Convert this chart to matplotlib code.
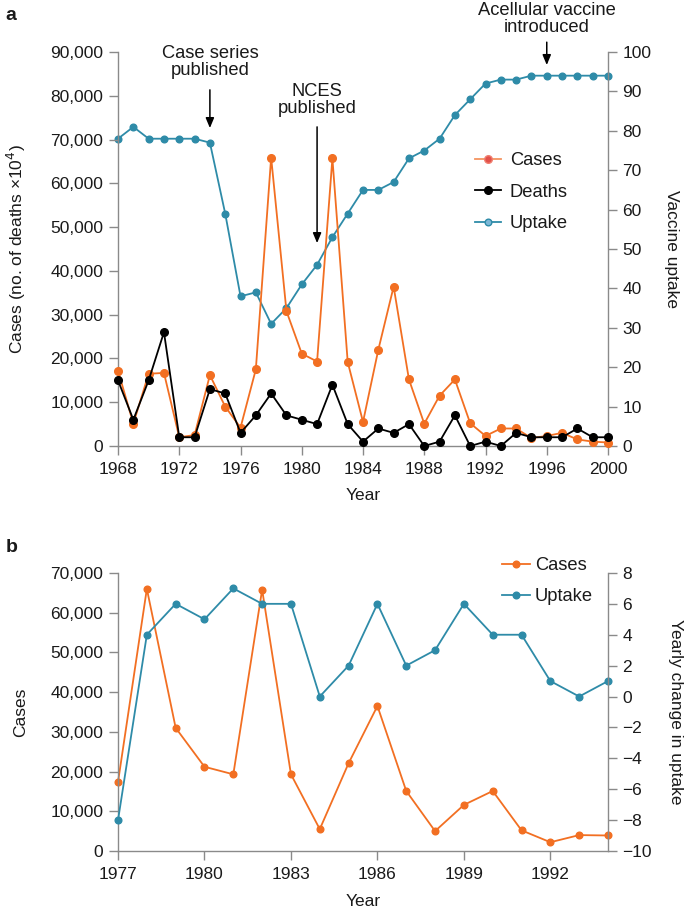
import numpy as np
import matplotlib
matplotlib.use("Agg")
import matplotlib.pyplot as plt
from matplotlib.lines import Line2D
import matplotlib.transforms as mtransforms

plt.rcParams['font.family'] = ['Liberation Sans', 'DejaVu Sans']

# panel a data, 1968-2000
years = list(range(1968, 2001))
cases = [17200, 5100, 16500, 16700, 2000, 2500, 16200, 9000, 4200, 17500,
         65900, 30800, 21100, 19300, 65700, 19200, 5500, 22000, 36400, 15200,
         5100, 11500, 15200, 5200, 2300, 4000, 4000, 1800, 2300, 3000,
         1500, 1000, 800]
deaths = [1.5, 0.6, 1.5, 2.6, 0.2, 0.2, 1.3, 1.2, 0.3, 0.7,
          1.2, 0.7, 0.6, 0.5, 1.4, 0.5, 0.1, 0.4, 0.3, 0.5,
          0.0, 0.1, 0.7, 0.0, 0.1, 0.0, 0.3, 0.2, 0.2, 0.2,
          0.4, 0.2, 0.2]  # x10^4 on the cases axis
uptake = [78, 81, 78, 78, 78, 78, 77, 59, 38, 39,
          31, 35, 41, 46, 53, 59, 65, 65, 67, 73,
          75, 78, 84, 88, 92, 93, 93, 94, 94, 94,
          94, 94, 94]

# panel b data, 1977-1994
years_b = list(range(1977, 1995))
cases_b = [17400, 66000, 31000, 21200, 19300, 65800, 19300, 5500, 22100, 36500,
           15100, 5000, 11600, 15100, 5200, 2200, 4000, 3900]
uptake_change = [-8, 4, 6, 5, 7, 6, 6, 0, 2, 6, 2, 3, 6, 4, 4, 1, 0, 1]

orange = '#F26F22'
blue = '#2E8BA8'
grey = '#8a8a8a'
txt = '#1a1a1a'
fs = 12.5

fig = plt.figure(figsize=(6.85, 9.08), dpi=100)
ax = fig.add_axes([0.1723, 0.5088, 0.7153, 0.4339])
ax2 = ax.twinx()


def style(a, right=False):
    a.spines['top'].set_visible(False)
    for s in ['left', 'right', 'bottom']:
        a.spines[s].set_color(grey)
        a.spines[s].set_linewidth(1.0)
    if right:
        a.spines['left'].set_visible(False)
        a.spines['bottom'].set_visible(False)
    else:
        a.spines['right'].set_visible(False)
    a.tick_params(direction='out', length=6.5, width=1.0, color=grey,
                  labelsize=fs, labelcolor=txt, pad=4)
    a.tick_params(axis='x', pad=5)


style(ax)
style(ax2, right=True)

ax.plot(years, cases, '-o', color=orange, lw=1.3, ms=5.5, clip_on=False, zorder=3)
ax.plot(years, np.array(deaths) * 1e4, '-o', color='black', lw=1.3, ms=5.5,
        clip_on=False, zorder=3)
ax2.plot(years, uptake, '-o', color=blue, lw=1.3, ms=4.8, clip_on=False)

ax.set_xlim(1968, 2000)
ax.set_ylim(0, 90000)
ax2.set_ylim(0, 100)
ax.set_xticks(range(1968, 2001, 4))
ax.set_yticks(range(0, 90001, 10000))
ax.set_yticklabels([f'{v:,}' for v in range(0, 90001, 10000)])
ax2.set_yticks(range(0, 101, 10))
ax.set_zorder(ax2.get_zorder() + 1)
ax.patch.set_visible(False)

ax.set_xlabel('Year', fontsize=fs, color=txt, labelpad=8)
ax.set_ylabel('Cases (no. of deaths ×10$^4$)', fontsize=fs, color=txt, labelpad=16)
ax2.set_ylabel('Vaccine uptake', fontsize=fs, color=txt, rotation=270, labelpad=20)

# annotations
tr = mtransforms.blended_transform_factory(ax.transData, ax.transAxes)
arrow = dict(arrowstyle='-|>,head_length=0.6,head_width=0.25', color='black', lw=1.1,
             shrinkA=0, shrinkB=0)
afs = 13.2
ax.text(1974, 0.975, 'Case series\npublished', transform=tr, ha='center', va='center',
        fontsize=afs, color=txt, linespacing=1.0)
ax.annotate('', xy=(1974, 0.807), xytext=(1974, 0.904), xycoords=tr, textcoords=tr,
            arrowprops=arrow)
ax.text(1981, 0.878, 'NCES\npublished', transform=tr, ha='center', va='center',
        fontsize=afs, color=txt, linespacing=1.0)
ax.annotate('', xy=(1981, 0.515), xytext=(1981, 0.81), xycoords=tr, textcoords=tr,
            arrowprops=arrow)
ax.text(1996, 1.083, 'Acellular vaccine\nintroduced', transform=tr, ha='center',
        va='center', fontsize=afs, color=txt, linespacing=1.0)
ax.annotate('', xy=(1996, 0.967), xytext=(1996, 1.025), xycoords=tr, textcoords=tr,
            arrowprops=arrow)

handles = [
    Line2D([], [], color='#F49460', lw=1.3, marker='o', ms=5.5,
           markerfacecolor='#E2504A', markeredgecolor='#F08070'),
    Line2D([], [], color='black', lw=1.3, marker='o', ms=5.5),
    Line2D([], [], color=blue, lw=1.3, marker='o', ms=4.8,
           markerfacecolor='#7DB7D6', markeredgecolor=blue),
]
ax.legend(handles, ['Cases', 'Deaths', 'Uptake'], loc='upper left',
          bbox_to_anchor=(0.695, 0.788), frameon=False, fontsize=afs,
          labelspacing=0.8, handlelength=1.4, handletextpad=0.5, labelcolor=txt)

fig.text(0.008, 0.978, 'a', fontsize=14, fontweight='bold', color=txt)

# panel b
bx = fig.add_axes([0.1723, 0.0628, 0.7153, 0.3062])
bx2 = bx.twinx()
style(bx)
style(bx2, right=True)

l1, = bx.plot(years_b, cases_b, '-o', color=orange, lw=1.3, ms=4.8, clip_on=False)
l2, = bx2.plot(years_b, uptake_change, '-o', color=blue, lw=1.3, ms=4.8, clip_on=False)

bx.set_xlim(1977, 1994)
bx.set_ylim(0, 70000)
bx2.set_ylim(-10, 8)
bx.set_xticks(range(1977, 1994, 3))
bx.set_yticks(range(0, 70001, 10000))
bx.set_yticklabels([f'{v:,}' for v in range(0, 70001, 10000)])
bx2.set_yticks(range(-10, 9, 2))
bx2.set_yticklabels([str(v).replace('-', '\u2212') for v in range(-10, 9, 2)])

bx.set_xlabel('Year', fontsize=fs, color=txt, labelpad=9)
bx.set_ylabel('Cases', fontsize=fs, color=txt, labelpad=16)
bx2.set_ylabel('Yearly change in uptake', fontsize=fs, color=txt, rotation=270,
               labelpad=22)

bx2.legend([l1, l2], ['Cases', 'Uptake'], loc='upper left',
           bbox_to_anchor=(0.75, 1.115), frameon=False, fontsize=afs,
           labelspacing=0.75, handlelength=1.5, handletextpad=0.3, labelcolor=txt)

fig.text(0.008, 0.392, 'b', fontsize=14, fontweight='bold', color=txt)

fig.savefig('out.png', dpi=100)
